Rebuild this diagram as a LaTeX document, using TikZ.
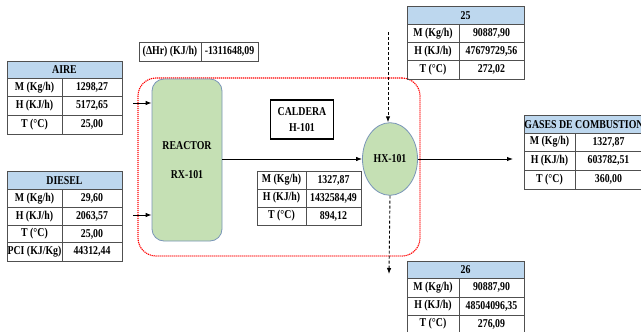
\documentclass[tikz,border=0pt]{standalone}
\usepackage{fontspec}
\setmainfont{Liberation Serif}[FakeStretch=0.82]
\usetikzlibrary{arrows.meta,shapes.geometric}
\definecolor{hdrblue}{HTML}{BDD7EE}
\definecolor{eqgreen}{HTML}{C5E0B4}
\definecolor{eqedge}{HTML}{7A96B8}
\definecolor{tblline}{HTML}{505050}
\tikzset{
  txt/.style={font=\fontsize{12}{14}\selectfont\bfseries},
  cell/.style={txt,draw=tblline,line width=0.8pt,inner sep=0pt},
  hdr/.style={fill=hdrblue},
  equip/.style={txt,draw=eqedge,fill=eqgreen,line width=0.8pt},
  arr/.style={draw=black,line width=0.9pt,-{Latex[length=6pt,width=4.5pt]}},
  dsh/.style={dash pattern=on 3pt off 2pt},
}
\newcommand\tc[7][]{%
  \pgfmathsetmacro\tcw{#5-#3}\pgfmathsetmacro\tch{#6-#4}%
  \pgfmathsetmacro\tcx{(#3+#5)/2}\pgfmathsetmacro\tcy{(#4+#6)/2}%
  \node[cell,#1,minimum width=\tcw pt,minimum height=\tch pt] (#2) at (\tcx,\tcy) {#7};}
\begin{document}
\begin{tikzpicture}[x=1pt,y=-1pt]
\useasboundingbox (0,0) rectangle (641,332);
\fill[white] (0,0) rectangle (641,332);

% boundary
\node[draw=red,line width=1.1pt,dash pattern=on 1.2pt off 0.8pt,rounded corners=18pt,
      minimum width=282pt,minimum height=178pt,inner sep=0pt] (bound) at (279,167) {};

% AIRE
\tc[hdr]{aire}{7}{61}{122}{78.3}{AIRE}
\tc{aireMl}{7}{78.3}{62}{96.7}{M (Kg/h)}
\tc{aireMv}{62}{78.3}{122}{96.7}{1298,27}
\tc{aireHl}{7}{96.7}{62}{115}{H (KJ/h)}
\tc{aireHv}{62}{96.7}{122}{115}{5172,65}
\tc{aireTl}{7}{115}{62}{134}{T (°C)}
\tc{aireTv}{62}{115}{122}{134}{25,00}

% DIESEL
\tc[hdr]{dies}{7}{171}{122}{189.3}{DIESEL}
\tc{diesMl}{7}{189.3}{62}{207.7}{M (Kg/h)}
\tc{diesMv}{62}{189.3}{122}{207.7}{29,60}
\tc{diesHl}{7}{207.7}{62}{225.3}{H (KJ/h)}
\tc{diesHv}{62}{207.7}{122}{225.3}{2063,57}
\tc{diesTl}{7}{225.3}{62}{242.7}{T (°C)}
\tc{diesTv}{62}{225.3}{122}{242.7}{25,00}
\tc{diesPl}{7}{242.7}{62}{261}{PCI (KJ/Kg)}
\tc{diesPv}{62}{242.7}{122}{261}{44312,44}

% Delta Hr
\tc{dhl}{139}{42}{201}{61}{(ΔHr) (KJ/h)}
\tc{dhv}{201}{42}{258}{61}{-1311648,09}

% middle table
\tc{midMl}{257}{171}{306}{189}{M (Kg/h)}
\tc{midMv}{306}{171}{361}{189}{1327,87}
\tc{midHl}{257}{189}{306}{207}{H (KJ/h)}
\tc{midHv}{306}{189}{361}{207}{1432584,49}
\tc{midTl}{257}{207}{306}{225}{T (°C)}
\tc{midTv}{306}{207}{361}{225}{894,12}

% 25
\tc[hdr]{s25}{407}{6.7}{524}{24}{25}
\tc{s25Ml}{407}{24}{459}{42.7}{M (Kg/h)}
\tc{s25Mv}{459}{24}{524}{42.7}{90887,90}
\tc{s25Hl}{407}{42.7}{459}{60.7}{H (KJ/h)}
\tc{s25Hv}{459}{42.7}{524}{60.7}{47679729,56}
\tc{s25Tl}{407}{60.7}{459}{79}{T (°C)}
\tc{s25Tv}{459}{60.7}{524}{79}{272,02}

% 26
\tc[hdr]{s26}{407}{261}{524}{278.7}{26}
\tc{s26Ml}{407}{278.7}{459}{297}{M (Kg/h)}
\tc{s26Mv}{459}{278.7}{524}{297}{90887,90}
\tc{s26Hl}{407}{297}{459}{315}{H (KJ/h)}
\tc{s26Hv}{459}{297}{524}{315}{48504096,35}
\tc{s26Tl}{407}{315}{459}{333}{T (°C)}
\tc{s26Tv}{459}{315}{524}{333}{276,09}

% Gases
\tc[hdr]{gas}{524}{115}{644}{133.3}{GASES DE COMBUSTION}
\tc{gasMl}{524}{133.3}{575}{151}{M (Kg/h)}
\tc{gasMv}{575}{133.3}{642}{151}{1327,87}
\tc{gasHl}{524}{151}{575}{170}{H (KJ/h)}
\tc{gasHv}{575}{151}{642}{170}{603782,51}
\tc{gasTl}{524}{170}{575}{189}{T (°C)}
\tc{gasTv}{575}{170}{642}{189}{360,00}

% equipment
\node[equip,rounded corners=12pt,minimum width=70pt,minimum height=162pt,align=center,inner sep=0pt]
  (rx) at (187,160) {REACTOR\\[15pt]RX-101};
\node[equip,ellipse,minimum width=55pt,minimum height=72.6pt,inner sep=0pt] (hx) at (390,159) {HX-101};
\node[txt,draw=black,line width=1.1pt,minimum width=62.6pt,minimum height=39pt,align=center,inner sep=0pt]
  (cal) at (302,119.5) {CALDERA\\[2pt]H-101};

% connectors
\coordinate (ain) at (133,103);
\coordinate (din) at (133,215);
\coordinate (gout) at (513,157);
\coordinate (win) at (388,32);
\coordinate (wout) at (389,274);
\draw[arr] (ain) -- (ain -| rx.west);
\draw[arr] (din) -- (din -| rx.west);
\draw[arr] (rx.east |- hx.west) -- (hx.west);
\draw[arr] (hx.east) -- (gout |- hx.east);
\draw[arr,dsh] (win) -- (win |- hx.north);
\draw[arr,dsh] (hx.south) -- (wout);
\end{tikzpicture}
\end{document}
